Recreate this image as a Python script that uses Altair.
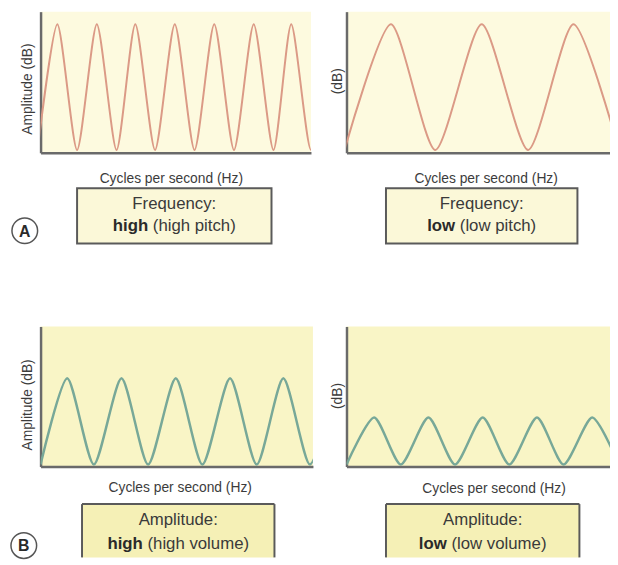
import altair as alt
import pandas as pd

# ---------------- data ----------------
# x positions (time units) of troughs / peaks, y = amplitude (0-10 scale)
# A, left: high frequency
a_hi_t = [-3, 17, 37, 57, 77, 96, 116, 136, 156, 176, 196, 216, 236, 254, 274, 294]
a_hi_a = [0.2, 9.1, 0.2, 9.1, 0.2, 9.1, 0.2, 9.1, 0.2, 9.1, 0.2, 9.1, 0.2, 9.1, 0.2, 9.1]
# A, right: low frequency
a_lo_t = [-2, 45, 90, 137, 184, 230, 276]
a_lo_a = [0.2, 9.1, 0.2, 9.1, 0.2, 9.1, 0.2]
# B, left: high amplitude
b_hi_t = [0, 27, 54, 82, 109, 137, 164, 192, 219, 246, 273, 300]
b_hi_a = [0.15, 6.3, 0.15, 6.3, 0.15, 6.3, 0.15, 6.3, 0.15, 6.3, 0.15, 6.3]
# B, right: low amplitude
b_lo_t = [0, 28, 55, 83, 110, 138, 165, 193, 220, 249, 276]
b_lo_a = [0.15, 3.5, 0.15, 3.5, 0.15, 3.5, 0.15, 3.5, 0.15, 3.5, 0.15]

x_title = "Cycles per second (Hz)"
y_titles = ["Amplitude (dB)", "(dB)", "Amplitude (dB)", "(dB)"]
box_line1 = ["Frequency:", "Frequency:", "Amplitude:", "Amplitude:"]
box_bold = ["high", "low", "high", "low"]
box_rest = ["(high pitch)", "(low pitch)", "(high volume)", "(low volume)"]
letters = ["A", "B"]

FONT = "Liberation Sans, Arial, sans-serif"

# Arial / Liberation Sans advance widths (per 1000 em) for centring mixed-weight text
REG = {' ': 278, '(': 333, ')': 333, ':': 278, 'A': 667, 'B': 667, 'C': 722, 'F': 611,
       'H': 722, 'a': 556, 'b': 556, 'c': 500, 'd': 556, 'e': 556, 'g': 556, 'h': 556,
       'i': 222, 'l': 222, 'm': 833, 'n': 556, 'o': 556, 'p': 556, 'q': 556, 'r': 333,
       's': 500, 't': 278, 'u': 556, 'v': 500, 'w': 722, 'y': 500, 'z': 500}
BOLD = {'h': 611, 'i': 278, 'g': 611, 'l': 278, 'o': 611, 'w': 778}


def tw(s, size, bold=False):
    tab = BOLD if bold else REG
    return sum(tab.get(c, REG.get(c, 556)) for c in s) * size / 1000.0


one = pd.DataFrame({"k": [0]})


def panel(ts, amps, w, h, color, sw, bg, xt_pos, ytitle, yt_pos, box, box_fill,
          l1, bword, rest, text_y, fs, letter=None, letter_pos=None, open_bottom=False):
    df = pd.DataFrame({"t": ts, "a": amps})
    axis_common = dict(domainColor="#6a6a6a", domainWidth=2.5, ticks=False, labels=False,
                       grid=False, titleFont=FONT, titleFontSize=14, titleColor="#3c3c3c",
                       titleFontWeight="normal")
    line = alt.Chart(df).mark_line(color=color, strokeWidth=sw, interpolate="cardinal",
                                   tension=0.3, clip=True).encode(
        x=alt.X("t:Q", scale=alt.Scale(domain=[0, w], nice=False, zero=False),
                axis=alt.Axis(title=x_title, titleX=xt_pos[0], titleY=xt_pos[1],
                              titleBaseline="middle", titleAlign="center", **axis_common)),
        y=alt.Y("a:Q", scale=alt.Scale(domain=[0, 10], nice=False),
                axis=alt.Axis(title=ytitle, titleX=yt_pos[0], titleY=yt_pos[1],
                              titleBaseline="middle", titleAlign="center", titleAngle=270,
                              **axis_common)),
    )
    x0, x1, y0, y1 = box
    layers = [line]
    if open_bottom:
        layers.append(alt.Chart(one).mark_rect(fill=box_fill).encode(
            x=alt.value(x0), x2=alt.value(x1), y=alt.value(y0), y2=alt.value(y1)))
        for (a, b, c, d) in [(x0, x1, y0, y0), (x0, x0, y0, y1), (x1, x1, y0, y1)]:
            layers.append(alt.Chart(one).mark_rule(color="#5a5a5a", strokeWidth=2).encode(
                x=alt.value(a), x2=alt.value(b), y=alt.value(c), y2=alt.value(d)))
    else:
        layers.append(alt.Chart(one).mark_rect(fill=box_fill, stroke="#5a5a5a",
                                               strokeWidth=2).encode(
            x=alt.value(x0), x2=alt.value(x1), y=alt.value(y0), y2=alt.value(y1)))
    cx = (x0 + x1) / 2.0
    layers.append(alt.Chart(one).mark_text(text=l1, font=FONT, fontSize=fs, color="#3a3a3a",
                                           align="center", baseline="middle").encode(
        x=alt.value(cx), y=alt.value(text_y[0])))
    wb = tw(bword, fs, True)
    total = wb + tw(" ", fs) + tw(rest, fs)
    start = cx - total / 2.0
    layers.append(alt.Chart(one).mark_text(text=bword, font=FONT, fontSize=fs,
                                           fontWeight="bold", color="#2a2a2a",
                                           align="left", baseline="middle").encode(
        x=alt.value(start), y=alt.value(text_y[1])))
    layers.append(alt.Chart(one).mark_text(text=rest, font=FONT, fontSize=fs, color="#3a3a3a",
                                           align="left", baseline="middle").encode(
        x=alt.value(start + wb + tw(" ", fs)), y=alt.value(text_y[1])))
    if letter:
        layers.append(alt.Chart(one).mark_point(shape="circle", size=676, filled=False,
                                                color="#555555", strokeWidth=1.5,
                                                opacity=1).encode(
            x=alt.value(letter_pos[0]), y=alt.value(letter_pos[1])))
        layers.append(alt.Chart(one).mark_text(text=letter, font=FONT, fontSize=16,
                                               fontWeight="bold", color="#2a2a2a",
                                               align="center", baseline="middle").encode(
            x=alt.value(letter_pos[0]), y=alt.value(letter_pos[1] + 1)))
    return alt.layer(*layers).properties(
        width=w, height=h, view=alt.ViewBackground(fill=bg, stroke=None))


A_BG = "#fdfadf"
B_BG = "#f9f5c6"
A_LINE = "#db9a86"
B_LINE = "#78a898"

pa1 = panel(a_hi_t, a_hi_a, 274, 143, A_LINE, 2, A_BG, (132, 26), y_titles[0], (-13, 78),
            (37, 234, 179, 235), "#fbf8d8", box_line1[0], box_bold[0], box_rest[0],
            (195, 217), 17, letters[0], (-16, 222))
pa2 = panel(a_lo_t, a_lo_a, 267, 143, A_LINE, 2, A_BG, (141, 26), y_titles[1], (-9, 70),
            (40, 234, 179, 235), "#fbf8d8", box_line1[1], box_bold[1], box_rest[1],
            (195, 217), 17)
pb1 = panel(b_hi_t, b_hi_a, 276, 142, B_LINE, 2.5, B_BG, (141, 21), y_titles[2], (-13, 79),
            (42, 237, 180, 234), "#f5f0b6", box_line1[2], box_bold[2], box_rest[2],
            (196, 220), 17, letters[1], (-17, 222), open_bottom=True)
pb2 = panel(b_lo_t, b_lo_a, 267, 142, B_LINE, 2.5, B_BG, (149, 22), y_titles[3], (-9, 70),
            (40, 236, 180, 234), "#f5f0b6", box_line1[3], box_bold[3], box_rest[3],
            (196, 220), 17, open_bottom=True)

row_a = alt.hconcat(pa1, pa2, spacing=36, bounds="flush")
row_b = alt.hconcat(pb1, pb2, spacing=34, bounds="flush")
chart = alt.vconcat(row_a, row_b, spacing=319, bounds="flush").properties(
    padding={"left": 0, "top": 0, "right": 0, "bottom": 0}, background="white")

chart.save("out.html", embed_options={"renderer": "svg", "actions": False})
